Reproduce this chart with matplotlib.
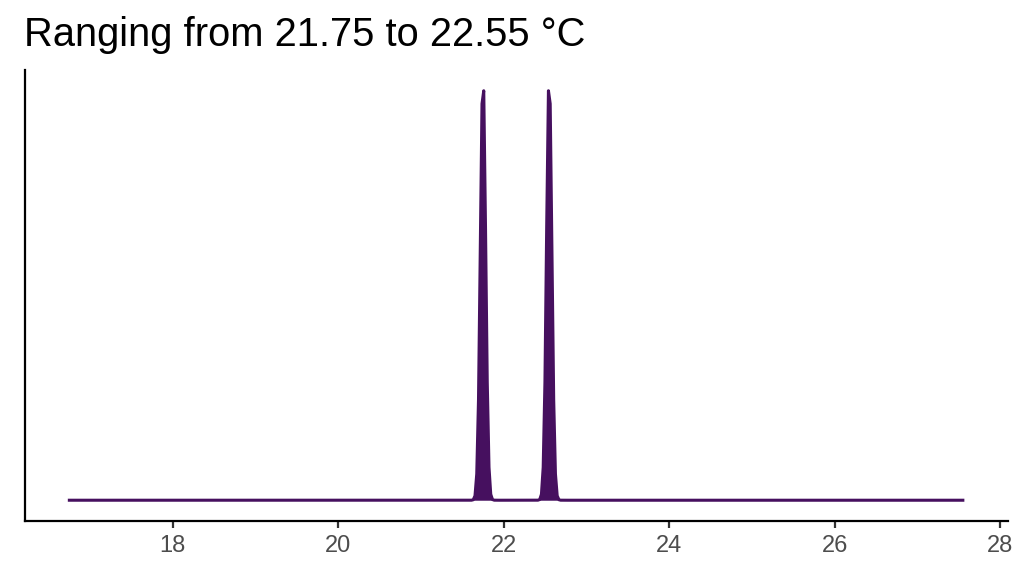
import matplotlib
matplotlib.use('Agg')
import matplotlib.pyplot as plt
import numpy as np

# Valores observados (°C)
temps = [21.75, 22.55]
x_ticks = [18, 20, 22, 24, 26, 28]
titulo = 'Ranging from 21.75 to 22.55 °C'

plt.rcParams['font.family'] = ['Liberation Sans', 'DejaVu Sans']

# Densidade kernel (gaussiana) sobre o intervalo min-5 .. max+5
bw = 0.032
grid = np.linspace(min(temps) - 5, max(temps) + 5, 512)
dens = np.zeros_like(grid)
for t in temps:
    dens += np.exp(-0.5 * ((grid - t) / bw) ** 2) / (bw * np.sqrt(2 * np.pi))
dens /= len(temps)

fig = plt.figure(figsize=(10.24, 5.76), dpi=100)
ax = fig.add_axes([0.0241, 0.096, 0.9598, 0.782])

cor = '#46105F'
ax.fill_between(grid, 0, dens, color=cor, linewidth=0)
ax.plot(grid, dens, color=cor, linewidth=2.2)

span = grid[-1] - grid[0]
ax.set_xlim(grid[0] - 0.05 * span, grid[-1] + 0.05 * span)
ax.set_ylim(-0.05 * dens.max(), 1.05 * dens.max())

ax.set_xticks(x_ticks)
ax.set_yticks([])
ax.tick_params(axis='x', labelsize=17, labelcolor='#4D4D4D', color='#333333',
               length=5, width=1.6, pad=5)
for lado in ['top', 'right']:
    ax.spines[lado].set_visible(False)
for lado in ['left', 'bottom']:
    ax.spines[lado].set_linewidth(1.6)
    ax.spines[lado].set_color('black')

fig.text(0.0234, 0.92, titulo, fontsize=28.7, color='black', ha='left', va='baseline')

plt.savefig('out.png', dpi=100)
